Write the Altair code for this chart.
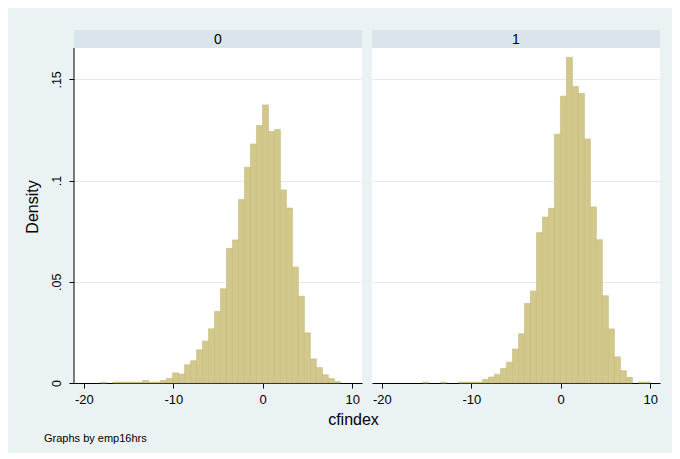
import altair as alt
import pandas as pd

# Histogram bins (shared by both panels): left edge of first bin and bin width
BIN_START = -20.8
BIN_WIDTH = 0.67
N_BINS = 46

groups = ["0", "1"]

# Density per bin, group emp16hrs == 0
density_0 = [0, 0, 0, 0, 0.0003, 0, 0.0004, 0.0004, 0.0004, 0.0004,
             0.0004, 0.0013, 0.0004, 0.0004, 0.0013, 0.0023, 0.0050, 0.0044, 0.0090, 0.0110,
             0.0164, 0.0207, 0.0268, 0.0354, 0.0466, 0.0665, 0.0707, 0.0907, 0.1066, 0.1181,
             0.1272, 0.1374, 0.1242, 0.1252, 0.0954, 0.0864, 0.0573, 0.0429, 0.0248, 0.0119,
             0.0076, 0.0041, 0.0022, 0.0007, 0, 0]

# Density per bin, group emp16hrs == 1
density_1 = [0, 0, 0, 0, 0, 0, 0, 0, 0.0004, 0,
             0, 0.0004, 0, 0, 0.0004, 0.0004, 0.0004, 0.0004, 0.0018, 0.0030,
             0.0043, 0.0072, 0.0103, 0.0168, 0.0243, 0.0393, 0.0454, 0.0743, 0.0820, 0.0863,
             0.1229, 0.1417, 0.1609, 0.1465, 0.1431, 0.1206, 0.0870, 0.0708, 0.0431, 0.0267,
             0.0129, 0.0061, 0.0028, 0, 0.0004, 0.0004]

y_ticks = [0, 0.05, 0.1, 0.15]
x_ticks = [-20, -10, 0, 10]
x_domain = [-21.1, 11.1]
y_top = 0.1744          # top of the panel (strip included)
x_title = "cfindex"
y_title = "Density"
note = "Graphs by emp16hrs"

FONT = "Liberation Sans, Arial, Helvetica, sans-serif"
BAR_FILL = "#D2C88C"
BAR_STROKE = "#C6BA7C"
STRIP = "#D9E5EB"
OUTER = "#EAF2F3"
GRID = "#E2ECF0"

PW = 288     # panel width
PH = 353     # panel height including strip
SH = 18      # strip height

X_LABEL_EXPR = "toString(datum.value)"
Y_LABEL_EXPR = "datum.value == 0 ? '0' : replace(format(datum.value, '.2~f'), '0.', '.')"


def panel(i, dens, first):
    lo = [round(BIN_START + k * BIN_WIDTH, 4) for k in range(N_BINS)]
    hi = [round(BIN_START + (k + 1) * BIN_WIDTH, 4) for k in range(N_BINS)]
    df = pd.DataFrame({"lo": lo, "hi": hi, "density": dens})
    df = df[df["density"] > 0]

    if first:
        yaxis = alt.Axis(values=y_ticks, title=y_title, labelAngle=270,
                         labelAlign="center", labelBaseline="bottom",
                         labelExpr=Y_LABEL_EXPR,
                         domain=False, ticks=True, tickSize=5, tickColor="black",
                         labelPadding=6, labelFontSize=12.5, labelColor="black",
                         titleFontSize=16, titleFontWeight="normal", titlePadding=10,
                         titleColor="black", grid=True, gridColor=GRID,
                         labelFont=FONT, titleFont=FONT)
        xaxis = alt.Axis(values=x_ticks, title=x_title, titleX=279, titleAlign="center",
                         titleFontSize=16, titleFontWeight="normal", titlePadding=5,
                         titleColor="black", titleFont=FONT, labelExpr=X_LABEL_EXPR,
                         domainColor="black", tickColor="black", tickSize=5,
                         labelFontSize=13, labelColor="black", labelPadding=5,
                         labelFont=FONT, grid=False, labelFlush=False)
    else:
        yaxis = alt.Axis(values=y_ticks, title=None, labels=False, ticks=False,
                         domain=False, grid=True, gridColor=GRID)
        xaxis = alt.Axis(values=x_ticks, title=None, labelExpr=X_LABEL_EXPR,
                         domainColor="black", tickColor="black", tickSize=5,
                         labelFontSize=13, labelColor="black", labelPadding=5,
                         labelFont=FONT, grid=False, labelFlush=False)

    bars = alt.Chart(df).mark_bar(fill=BAR_FILL, stroke=BAR_STROKE, strokeWidth=0.6).encode(
        x=alt.X("lo:Q", scale=alt.Scale(domain=x_domain, nice=False, zero=False), axis=xaxis),
        x2="hi:Q",
        y=alt.Y("density:Q", scale=alt.Scale(domain=[0, y_top], nice=False), axis=yaxis),
        y2=alt.datum(0),
    )

    head = pd.DataFrame({"g": [groups[i]]})
    strip = alt.Chart(head).mark_rect(fill=STRIP).encode(
        x=alt.value(0), x2=alt.value(PW), y=alt.value(0), y2=alt.value(SH))
    label = alt.Chart(head).mark_text(fontSize=14, font=FONT, color="black",
                                      baseline="middle", align="center").encode(
        x=alt.value(PW / 2), y=alt.value(SH / 2 + 0.5), text="g:N")

    layers = [bars, strip, label]
    if first:
        yline = alt.Chart(head).mark_rule(color="black", strokeWidth=1).encode(
            x=alt.value(0), y=alt.value(SH), y2=alt.value(PH))
        layers.append(yline)

    return alt.layer(*layers).properties(width=PW, height=PH)


chart = alt.hconcat(
    panel(0, density_0, True),
    panel(1, density_1, False),
    spacing=10,
    bounds="flush",
).properties(
    title=alt.TitleParams(text=note, orient="bottom", anchor="start", fontSize=11,
                          font=FONT, fontWeight="normal", color="black", offset=6, dx=20),
    padding={"left": 15, "top": 22, "right": 12, "bottom": 9},
    background=OUTER,
).configure_view(fill="white", stroke=None)

chart.save("out.html", embed_options={"renderer": "svg", "actions": False})
